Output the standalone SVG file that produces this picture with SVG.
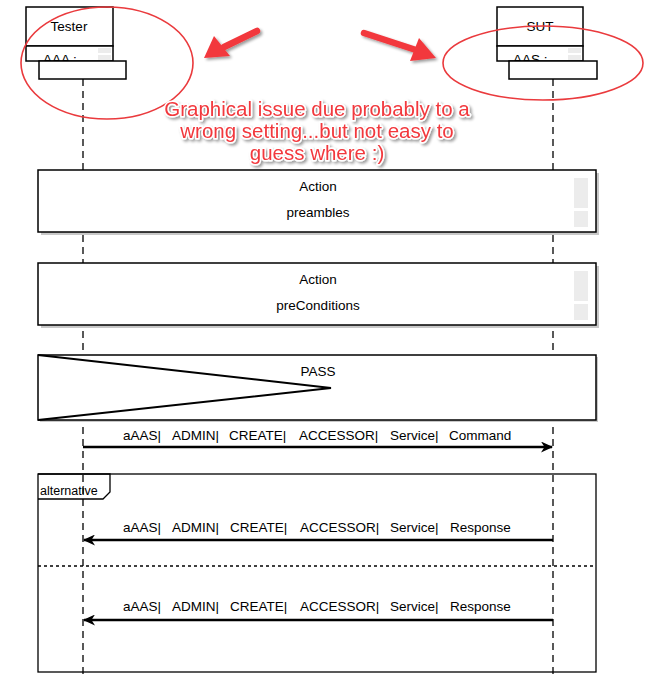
<svg xmlns="http://www.w3.org/2000/svg" width="645" height="677" viewBox="0 0 645 677">
<style>
.t{font-family:"Liberation Sans",Arial,sans-serif;font-size:13.5px;fill:#000}
.box{fill:#fff;stroke:#000;stroke-width:1.5}
.sh{fill:#c8c8c8}
.life{stroke:#000;stroke-width:1.3;stroke-dasharray:7 5;fill:none}
.msg{stroke:#000;stroke-width:2.5;fill:none}
.btn{fill:#ececec}
.red{fill:none;stroke:#ea3a3d;stroke-width:1.6}
.note{font-family:"Liberation Sans",Arial,sans-serif;font-size:20.5px;fill:#f2383d;stroke:#fff;stroke-width:3;paint-order:stroke;stroke-linejoin:round}
</style>
<defs>
<marker id="ah" markerWidth="13" markerHeight="11" refX="11" refY="5.5" orient="auto" markerUnits="userSpaceOnUse">
<path d="M0,0 L12,5.5 L0,11 L3.5,5.5 z" fill="#000"/>
</marker>
<filter id="ds" x="-10%" y="-20%" width="130%" height="160%">
<feGaussianBlur in="SourceAlpha" stdDeviation="1.5"/>
<feOffset dx="1.5" dy="2" result="b"/>
<feComponentTransfer><feFuncA type="linear" slope="0.4"/></feComponentTransfer>
<feMerge><feMergeNode/><feMergeNode in="SourceGraphic"/></feMerge>
</filter>
</defs>
<rect width="645" height="677" fill="#fff"/>

<g id="lifelines">
<line class="life" x1="83" y1="79" x2="83" y2="677"/>
<line class="life" x1="553" y1="79" x2="553" y2="677"/>
</g>

<g id="tester">
<rect class="box" x="26" y="7" width="87" height="39"/>
<text class="t" x="69" y="31" text-anchor="middle">Tester</text>
<rect class="box" x="26" y="46" width="87" height="15"/>
<text class="t" x="43" y="64">AAA :</text>
<rect class="btn" x="98" y="48" width="13" height="5"/>
<rect class="btn" x="98" y="55" width="13" height="5"/>
<rect class="box" x="39" y="61" width="87" height="18"/>
</g>

<g id="sut">
<rect class="box" x="497" y="7" width="86" height="39"/>
<text class="t" x="540" y="31" text-anchor="middle">SUT</text>
<rect class="box" x="497" y="46" width="86" height="15"/>
<text class="t" x="513" y="64">AAS :</text>
<rect class="btn" x="568" y="48" width="13" height="5"/>
<rect class="btn" x="568" y="55" width="13" height="5"/>
<rect class="box" x="509" y="61" width="88" height="18"/>
</g>

<g id="preambles">
<rect class="sh" x="41" y="173" width="558" height="62"/>
<rect class="box" x="38" y="170" width="558" height="62"/>
<text class="t" x="318" y="191" text-anchor="middle">Action</text>
<text class="t" x="318" y="217" text-anchor="middle">preambles</text>
<rect class="btn" x="574" y="178" width="14" height="30"/>
<rect class="btn" x="574" y="211" width="14" height="16"/>
</g>

<g id="preconditions">
<rect class="sh" x="41" y="266" width="558" height="62"/>
<rect class="box" x="38" y="263" width="558" height="62"/>
<text class="t" x="318" y="284" text-anchor="middle">Action</text>
<text class="t" x="318" y="310" text-anchor="middle">preConditions</text>
<rect class="btn" x="574" y="271" width="14" height="30"/>
<rect class="btn" x="574" y="304" width="14" height="16"/>
</g>

<g id="pass">
<rect class="sh" x="40" y="357" width="558" height="65"/>
<rect class="box" x="38" y="355" width="558" height="65"/>
<path d="M38,355 L331,388 L38,420" fill="none" stroke="#000" stroke-width="2"/>
<text class="t" x="318" y="376" text-anchor="middle">PASS</text>
</g>

<g id="alternative">
<rect x="38" y="474" width="558" height="198" fill="none" stroke="#000" stroke-width="1.3"/>
<path d="M38,474 L110,474 L110,492 L103,499 L38,499" fill="none" stroke="#000" stroke-width="1.3"/>
<text class="t" x="40" y="495" style="font-size:12.5px">alternative</text>
<line x1="38" y1="566" x2="596" y2="566" stroke="#000" stroke-width="1.3" stroke-dasharray="3 3"/>
</g>

<g id="connectors">
<line class="msg" x1="83" y1="447" x2="552" y2="447" marker-end="url(#ah)"/>
<line class="msg" x1="553" y1="540" x2="84" y2="540" marker-end="url(#ah)"/>
<line class="msg" x1="553" y1="620" x2="84" y2="620" marker-end="url(#ah)"/>
<g class="t">
<text x="123" y="440">aAAS|</text>
<text x="172" y="440">ADMIN|</text>
<text x="229" y="440">CREATE|</text>
<text x="299" y="440">ACCESSOR|</text>
<text x="390" y="440">Service|</text>
<text x="449" y="440">Command</text>
<text x="123" y="532">aAAS|</text>
<text x="172" y="532">ADMIN|</text>
<text x="230" y="532">CREATE|</text>
<text x="300" y="532">ACCESSOR|</text>
<text x="390" y="532">Service|</text>
<text x="450" y="532">Response</text>
<text x="123" y="611">aAAS|</text>
<text x="172" y="611">ADMIN|</text>
<text x="230" y="611">CREATE|</text>
<text x="300" y="611">ACCESSOR|</text>
<text x="390" y="611">Service|</text>
<text x="450" y="611">Response</text>
</g>
</g>

<g id="annotation">
<ellipse class="red" cx="107" cy="63" rx="86" ry="56"/>
<ellipse class="red" cx="543" cy="63" rx="100" ry="37"/>
<g filter="url(#ds)">
<line x1="257" y1="31" x2="224" y2="47" stroke="#f2383d" stroke-width="6.5" stroke-linecap="round"/>
<path d="M204,58 L214,36 L230,56 z" fill="#f2383d"/>
<line x1="364" y1="33" x2="416" y2="50" stroke="#f2383d" stroke-width="6.5" stroke-linecap="round"/>
<path d="M436,58 L410,61 L419,38 z" fill="#f2383d"/>
</g>
<g filter="url(#ds)">
<text class="note" x="317" y="116" text-anchor="middle">Graphical issue due probably to a</text>
<text class="note" x="317" y="138" text-anchor="middle">wrong setting...but not easy to</text>
<text class="note" x="317" y="160" text-anchor="middle">guess where :)</text>
</g>
</g>
</svg>
